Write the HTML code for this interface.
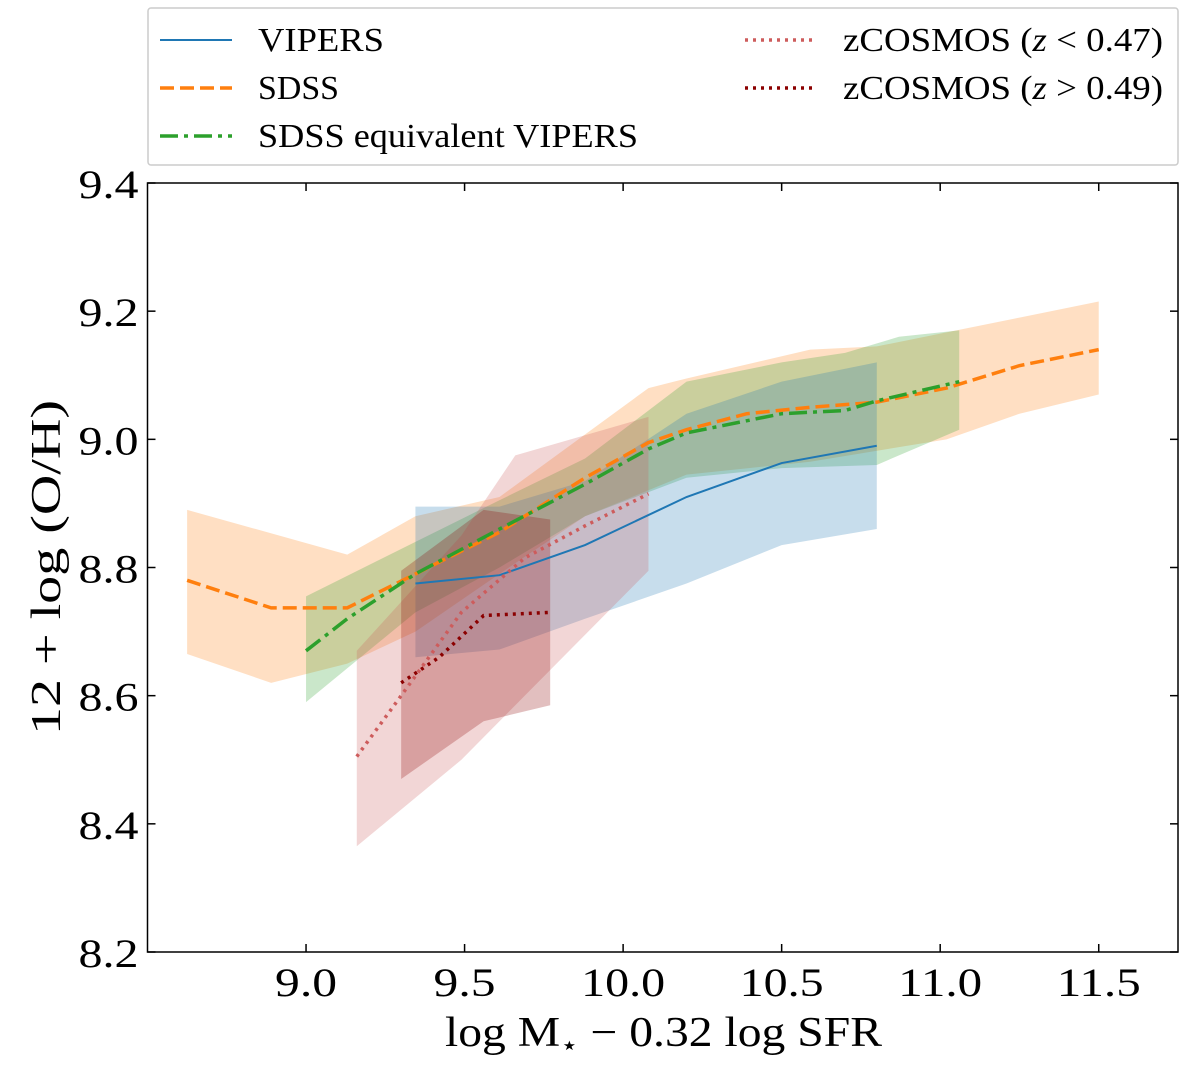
<!DOCTYPE html>
<html><head><meta charset="utf-8"><style>
body{margin:0;background:#fff;}
svg{font-family:"Liberation Serif",serif;}
</style></head><body>
<svg id="chart" width="1200" height="1062" viewBox="0 0 1200 1062" xmlns="http://www.w3.org/2000/svg">
<g id="bands"></g><g id="lines"></g><g id="axes"></g><g id="legend"></g>
</svg>
<script>
const xTicks=[9.0,9.5,10.0,10.5,11.0,11.5];
const yTicks=[8.2,8.4,8.6,8.8,9.0,9.2,9.4];
const sdssX=[8.625,8.89,9.13,9.345,9.61,9.88,10.08,10.2,10.39,10.59,10.8,11.02,11.25,11.5];
const sdssY=[8.78,8.737,8.737,8.79,8.855,8.94,8.995,9.015,9.04,9.05,9.058,9.08,9.115,9.14];
const sdssHiX=[8.625,9.13,9.345,9.61,10.08,10.2,10.59,10.8,11.25,11.5];
const sdssHi=[8.89,8.82,8.88,8.91,9.08,9.095,9.14,9.145,9.19,9.215];
const sdssLoX=[8.625,8.89,9.13,9.345,9.61,9.88,10.2,10.59,11.02,11.25,11.5];
const sdssLo=[8.665,8.62,8.65,8.70,8.79,8.88,8.945,8.965,9.0,9.04,9.07];
const eqX=[9.0,9.13,9.345,9.61,9.88,10.08,10.2,10.5,10.7,10.8,11.06];
const eqY=[8.67,8.72,8.79,8.86,8.93,8.985,9.01,9.04,9.045,9.06,9.09];
const eqHiX=[9.0,9.345,9.61,9.88,10.2,10.5,10.7,10.87,11.06];
const eqHi=[8.755,8.84,8.905,8.97,9.09,9.12,9.135,9.16,9.17];
const eqLoX=[9.0,9.345,9.61,9.88,10.2,10.5,10.8,10.87,11.06];
const eqLo=[8.59,8.73,8.80,8.88,8.94,8.955,8.96,8.975,9.015];
const vipX=[9.345,9.61,9.88,10.2,10.5,10.8];
const vipY=[8.775,8.788,8.835,8.91,8.963,8.99];
const vipHi=[8.895,8.895,8.935,9.04,9.09,9.12];
const vipLo=[8.66,8.672,8.72,8.775,8.835,8.86];
const zlX=[9.16,9.3,9.49,9.69,9.88,10.08];
const zlY=[8.505,8.6,8.73,8.815,8.865,8.915];
const zlHiX=[9.16,9.49,9.66,10.08];
const zlHi=[8.67,8.85,8.975,9.035];
const zlLoX=[9.16,9.49,10.08];
const zlLo=[8.365,8.5,8.795];
const zhX=[9.3,9.42,9.56,9.77];
const zhY=[8.62,8.66,8.725,8.73];
const zhBX=[9.3,9.56,9.77];
const zhHi=[8.795,8.89,8.875];
const zhLo=[8.47,8.56,8.585];

const L=147.5,R=1178,T=183,B=952,xmin=8.5,xmax=11.75,ymin=8.2,ymax=9.4;
const sx=v=>L+(v-xmin)/(xmax-xmin)*(R-L);
const sy=v=>B-(v-ymin)/(ymax-ymin)*(B-T);
const NS="http://www.w3.org/2000/svg";
function mk(tag,attrs,parent){const e=document.createElementNS(NS,tag);for(const k in attrs)e.setAttribute(k,attrs[k]);parent.appendChild(e);return e;}
const bands=document.getElementById('bands'),lines=document.getElementById('lines'),axes=document.getElementById('axes'),legend=document.getElementById('legend');
function band(hx,hy,lx,ly,color,name){
  let p=hx.map((x,i)=>sx(x)+','+sy(hy[i]));
  for(let i=lx.length-1;i>=0;i--)p.push(sx(lx[i])+','+sy(ly[i]));
  const e=mk('polygon',{points:p.join(' '),fill:color,'fill-opacity':0.25},bands);
  
  
}
function line(xs,ys,color,dash,w,name){
  const e=mk('polyline',{points:xs.map((x,i)=>sx(x)+','+sy(ys[i])).join(' '),fill:'none',stroke:color,'stroke-width':w,'stroke-dasharray':dash},lines);
  
  
}
band(sdssHiX,sdssHi,sdssLoX,sdssLo,'#ff7f0e','sdss-band');
band(eqHiX,eqHi,eqLoX,eqLo,'#2ca02c','sdss-equivalent-band');
band(vipX,vipHi,vipX,vipLo,'#1f77b4','vipers-band');
band(zlHiX,zlHi,zlLoX,zlLo,'#cd5c5c','zcosmos-low-band');
band(zhBX,zhHi,zhBX,zhLo,'#8b0000','zcosmos-high-band');
line(vipX,vipY,'#1f77b4','none',2,'vipers-line');
line(sdssX,sdssY,'#ff7f0e','14 6',3.5,'sdss-line');
line(eqX,eqY,'#2ca02c','18 6 4 6',3.5,'sdss-equivalent-line');
line(zlX,zlY,'#cd5c5c','3 5',3.5,'zcosmos-low-line');
line(zhX,zhY,'#8b0000','3 5',3.5,'zcosmos-high-line');

const fr=mk('rect',{x:L,y:T,width:R-L,height:B-T,fill:'none',stroke:'#000','stroke-width':1.5},axes);


xTicks.forEach(v=>{
  mk('line',{x1:sx(v),x2:sx(v),y1:B,y2:B-8,stroke:'#000','stroke-width':1.5},axes);
  mk('line',{x1:sx(v),x2:sx(v),y1:T,y2:T+8,stroke:'#000','stroke-width':1.5},axes);
  const s=v.toFixed(1);
  const t=mk('text',{x:sx(v),y:B+44,'text-anchor':'middle','font-size':40,textLength:s.length>3?84:62,lengthAdjust:'spacingAndGlyphs'},axes);t.textContent=s;
  
  
});
yTicks.forEach(v=>{
  mk('line',{x1:L,x2:L+8,y1:sy(v),y2:sy(v),stroke:'#000','stroke-width':1.5},axes);
  mk('line',{x1:R,x2:R-8,y1:sy(v),y2:sy(v),stroke:'#000','stroke-width':1.5},axes);
  const t=mk('text',{x:L-9,y:sy(v)+15,'text-anchor':'end','font-size':40,textLength:60,lengthAdjust:'spacingAndGlyphs'},axes);t.textContent=v.toFixed(1);
  
  
});
</script>
<svg style="position:absolute;left:0;top:0" width="1200" height="1062" xmlns="http://www.w3.org/2000/svg">
<text x="445" y="1046" textLength="437" lengthAdjust="spacingAndGlyphs" font-size="42" font-family="Liberation Serif,serif">log M<tspan font-size="26" dy="8">⋆</tspan><tspan dy="-8"> − 0.32 log SFR</tspan></text>
<text transform="translate(60,735) rotate(-90)" textLength="335" lengthAdjust="spacingAndGlyphs" font-size="42" font-family="Liberation Serif,serif">12 + log (O/H)</text>
<g font-family="Liberation Serif,serif" font-size="34">
<rect x="148" y="8" width="1030" height="157" fill="#fff" stroke="#ccc" stroke-width="1.5" rx="3"/>
<line x1="160" y1="40" x2="232" y2="40" stroke="#1f77b4" stroke-width="2"/>
<text x="258" y="51" textLength="126" lengthAdjust="spacingAndGlyphs">VIPERS</text>
<line x1="160" y1="88" x2="232" y2="88" stroke="#ff7f0e" stroke-width="3.5" stroke-dasharray="14 6"/>
<text x="258" y="99" textLength="81" lengthAdjust="spacingAndGlyphs">SDSS</text>
<line x1="160" y1="136" x2="232" y2="136" stroke="#2ca02c" stroke-width="3.5" stroke-dasharray="18 6 4 6"/>
<text x="258" y="147" textLength="380" lengthAdjust="spacingAndGlyphs">SDSS equivalent VIPERS</text>
<line x1="745" y1="40" x2="817" y2="40" stroke="#cd5c5c" stroke-width="3.5" stroke-dasharray="3 5"/>
<text x="843" y="51" textLength="320" lengthAdjust="spacingAndGlyphs">zCOSMOS (<tspan font-style="italic">z</tspan> &lt; 0.47)</text>
<line x1="745" y1="88" x2="817" y2="88" stroke="#8b0000" stroke-width="3.5" stroke-dasharray="3 5"/>
<text x="843" y="99" textLength="320" lengthAdjust="spacingAndGlyphs">zCOSMOS (<tspan font-style="italic">z</tspan> &gt; 0.49)</text>
</g>
</svg>
</body></html>
